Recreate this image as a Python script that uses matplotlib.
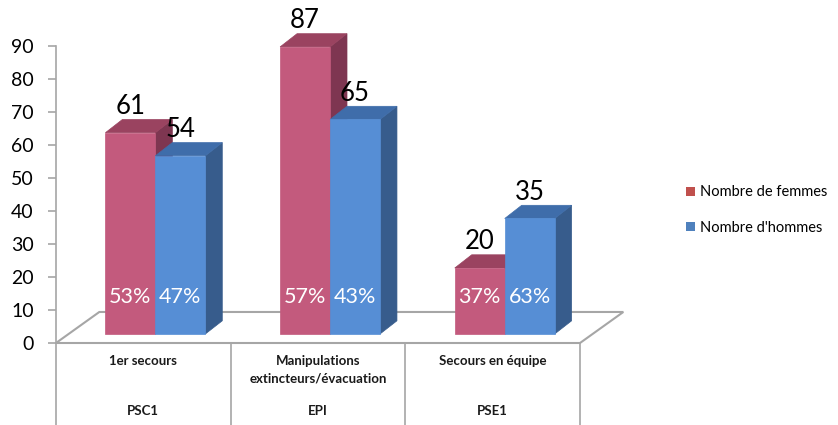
import matplotlib
matplotlib.use("Agg")
import matplotlib.pyplot as plt
from matplotlib.patches import Polygon, Patch

plt.rcParams['font.family'] = ['Lato', 'DejaVu Sans']

# ---- data ----
cat_top = ["1er secours", "Manipulations\nextincteurs/évacuation", "Secours en équipe"]
cat_bottom = ["PSC1", "EPI", "PSE1"]
femmes = [61, 87, 20]
hommes = [54, 65, 35]
pct_femmes = ["53%", "57%", "37%"]
pct_hommes = ["47%", "43%", "63%"]
series_names = ["Nombre de femmes", "Nombre d'hommes"]

# ---- style ----
face_f, top_f, side_f = "#C35A7D", "#9A4360", "#7E3651"
face_h, top_h, side_h = "#568ED5", "#3F6DAA", "#375C8C"
legend_f, legend_h = "#C0504D", "#4F81BD"
grey = "#A6A6A6"

W, H = 838, 425
fig = plt.figure(figsize=(W / 100, H / 100), dpi=100)
px_per_cat = 174.67
px_per_val = 3.3
x0_px, y0_px = 56, 343
right_px = 660
ax = fig.add_axes([x0_px / W, 0, (right_px - x0_px) / W, 1])
ax.set_xlim(0, (right_px - x0_px) / px_per_cat)
ax.set_ylim((y0_px - H) / px_per_val, y0_px / px_per_val)

for s in ["top", "right", "bottom"]:
    ax.spines[s].set_visible(False)
ax.spines["left"].set_bounds(0, 90)
ax.spines["left"].set_color(grey)
ax.spines["left"].set_linewidth(1.2)
ax.set_xticks([])
ax.set_yticks(range(0, 91, 10))
ax.tick_params(axis="y", direction="out", length=6, width=1.2, color=grey,
               labelsize=14, pad=10, labelcolor="#000000")

# floor
fdx, fdy = 0.248, 9.4
floor = Polygon([(0, 0), (3, 0), (3 + fdx, fdy), (fdx, fdy)], closed=True,
                facecolor="white", edgecolor=grey, lw=1.5, zorder=1)
ax.add_patch(floor)

# table lines
ybot = (y0_px - H) / px_per_val
for i in range(4):
    ax.plot([i, i], [0, ybot], color=grey, lw=1.2, zorder=1, clip_on=False)

# bars
base = 2.73
bw = 0.286
off = 0.283
bdx, bdy = 0.097, 4.0


def bar3d(x, v, cf, ct, cs):
    y1 = base + v
    ax.add_patch(Polygon([(x + bw, base), (x + bw + bdx, base + bdy),
                          (x + bw + bdx, y1 + bdy), (x + bw, y1)],
                         closed=True, facecolor=cs, edgecolor=cs, lw=0.5, zorder=3))
    ax.add_patch(Polygon([(x, y1), (x + bw, y1), (x + bw + bdx, y1 + bdy),
                          (x + bdx, y1 + bdy)],
                         closed=True, facecolor=ct, edgecolor=ct, lw=0.5, zorder=3))
    ax.add_patch(Polygon([(x, base), (x + bw, base), (x + bw, y1), (x, y1)],
                         closed=True, facecolor=cf, edgecolor=cf, lw=0.5, zorder=3))


for i in range(3):
    xf = i + off
    xh = xf + bw
    bar3d(xf, femmes[i], face_f, top_f, side_f)
    bar3d(xh, hommes[i], face_h, top_h, side_h)
    ax.text(xf + bw / 2, base + femmes[i] + bdy + 4.0, str(femmes[i]),
            ha="center", va="center", fontsize=18.5, color="#000000", zorder=5)
    ax.text(xh + bw / 2, base + hommes[i] + bdy + 4.0, str(hommes[i]),
            ha="center", va="center", fontsize=18.5, color="#000000", zorder=5)
    ax.text(xf + bw / 2, 14.0, pct_femmes[i], ha="center", va="center",
            fontsize=15.5, color="white", zorder=5)
    ax.text(xh + bw / 2, 14.0, pct_hommes[i], ha="center", va="center",
            fontsize=15.5, color="white", zorder=5)
    ax.text(i + 0.5, -3.7, cat_top[i], ha="center", va="top", fontsize=9.5,
            fontweight="bold", color="#1a1a1a", linespacing=1.5)
    ax.text(i + 0.5, -20.6, cat_bottom[i], ha="center", va="center", fontsize=9.5,
            fontweight="bold", color="#1a1a1a")

handles = [Patch(facecolor=legend_f, edgecolor="none"),
           Patch(facecolor=legend_h, edgecolor="none")]
fig.legend(handles, series_names, loc="center left",
           bbox_to_anchor=(679 / W, 1 - 210 / H), frameon=False, fontsize=10.5,
           handlelength=0.6, handleheight=0.6, handletextpad=0.35,
           labelspacing=1.45, borderpad=0)

fig.savefig("out.png", dpi=100)
